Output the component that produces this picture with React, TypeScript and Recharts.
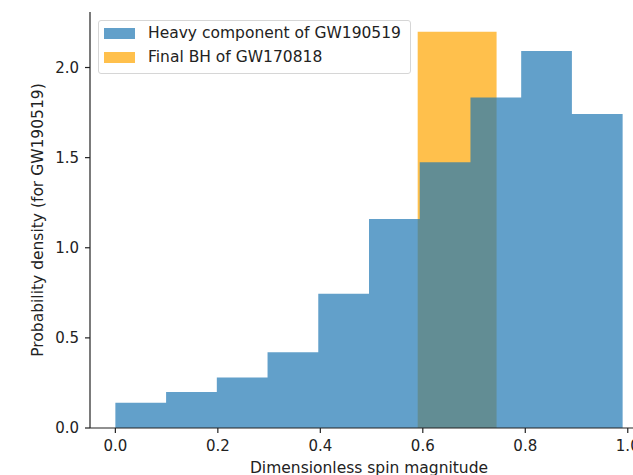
import { ComposedChart, Area, XAxis, YAxis, Legend } from 'recharts'

// histogram bin edges + densities
const heavyEdges = [0, 0.099, 0.198, 0.297, 0.396, 0.495, 0.594, 0.693, 0.792, 0.891, 0.99]
const heavyDensity = [0.14, 0.2, 0.28, 0.42, 0.745, 1.16, 1.474, 1.834, 2.092, 1.742]
const finalEdges = [0.59, 0.744]
const finalDensity = [2.198]

const xTicks = [0, 0.2, 0.4, 0.6, 0.8, 1.0]
const yTicks = [0, 0.5, 1.0, 1.5, 2.0]

const seriesNames = ['Heavy component of GW190519', 'Final BH of GW170818']
const seriesColors = ['#1f77b4', '#ffa500']

// value of the bin that x falls in (stepAfter), null outside the histogram
const binValue = (edges: number[], dens: number[], x: number) => {
  if (x < edges[0] || x > edges[edges.length - 1]) return null
  let i = 0
  while (i < dens.length - 1 && x >= edges[i + 1]) i++
  return dens[i]
}

const allX = Array.from(new Set([...heavyEdges, ...finalEdges])).sort((a, b) => a - b)
const data = allX.map((x) => ({
  x,
  heavy: binValue(heavyEdges, heavyDensity, x),
  final: binValue(finalEdges, finalDensity, x),
}))

const font = 'DejaVu Sans'
const ink = '#222'

function HistLegend() {
  return (
    <div
      style={{
        border: '1px solid #d6d6d6',
        borderRadius: 3,
        background: 'rgba(255,255,255,0.85)',
        padding: '0 0 4px 5px',
        fontFamily: font,
        fontSize: 15.5,
        color: ink,
        boxSizing: 'border-box',
        width: 313,
      }}
    >
      {seriesNames.map((name, i) => (
        <div key={name} style={{ display: 'flex', alignItems: 'center', height: 24 }}>
          <span
            style={{
              width: 31,
              height: 11,
              background: seriesColors[i],
              opacity: 0.7,
              marginRight: 13,
              display: 'inline-block',
            }}
          />
          <span>{name}</span>
        </div>
      ))}
    </div>
  )
}

export default function App() {
  return (
    <div
      style={{
        position: 'fixed',
        left: 0,
        top: 0,
        width: 633,
        height: 475,
        overflow: 'hidden',
        background: '#fff',
      }}
    >
      <ComposedChart
        width={660}
        height={480}
        data={data}
        margin={{ top: 12, right: 12, bottom: 2, left: 32 }}
      >
        <XAxis
          dataKey="x"
          type="number"
          domain={[-0.0495, 1.0395]}
          allowDataOverflow
          ticks={xTicks}
          tickFormatter={(v: number) => v.toFixed(1)}
          height={50}
          tickSize={5}
          tickMargin={7}
          stroke={ink}
          strokeWidth={1.2}
          tick={{ fill: ink, fontSize: 15, fontFamily: font }}
          label={{
            value: 'Dimensionless spin magnitude',
            position: 'insideBottom',
            offset: 5,
            fill: ink,
            fontSize: 15.5,
            fontFamily: font,
          }}
        />
        <XAxis
          xAxisId="top"
          orientation="top"
          dataKey="x"
          type="number"
          domain={[-0.0495, 1.0395]}
          allowDataOverflow
          height={0}
          tick={false}
          tickLine={false}
          stroke={ink}
          strokeWidth={1.2}
        />
        <YAxis
          type="number"
          domain={[0, 2.308]}
          allowDataOverflow
          ticks={yTicks}
          tickFormatter={(v: number) => v.toFixed(1)}
          width={58}
          tickSize={5}
          tickMargin={6}
          stroke={ink}
          strokeWidth={1.2}
          tick={{ fill: ink, fontSize: 15, fontFamily: font }}
          label={{
            value: 'Probability density (for GW190519)',
            angle: -90,
            position: 'insideLeft',
            offset: 5,
            fill: ink,
            fontSize: 15.5,
            fontFamily: font,
            style: { textAnchor: 'middle' },
          }}
        />
        <Legend
          layout="vertical"
          align="center"
          verticalAlign="middle"
          wrapperStyle={{ left: 98, top: 20, width: 313 }}
          content={() => <HistLegend />}
        />
        <Area
          dataKey="final"
          name={seriesNames[1]}
          type="stepAfter"
          baseValue={0}
          fill={seriesColors[1]}
          fillOpacity={0.7}
          stroke="none"
          isAnimationActive={false}
        />
        <Area
          dataKey="heavy"
          name={seriesNames[0]}
          type="stepAfter"
          baseValue={0}
          fill={seriesColors[0]}
          fillOpacity={0.7}
          stroke="none"
          isAnimationActive={false}
        />
      </ComposedChart>
    </div>
  )
}
